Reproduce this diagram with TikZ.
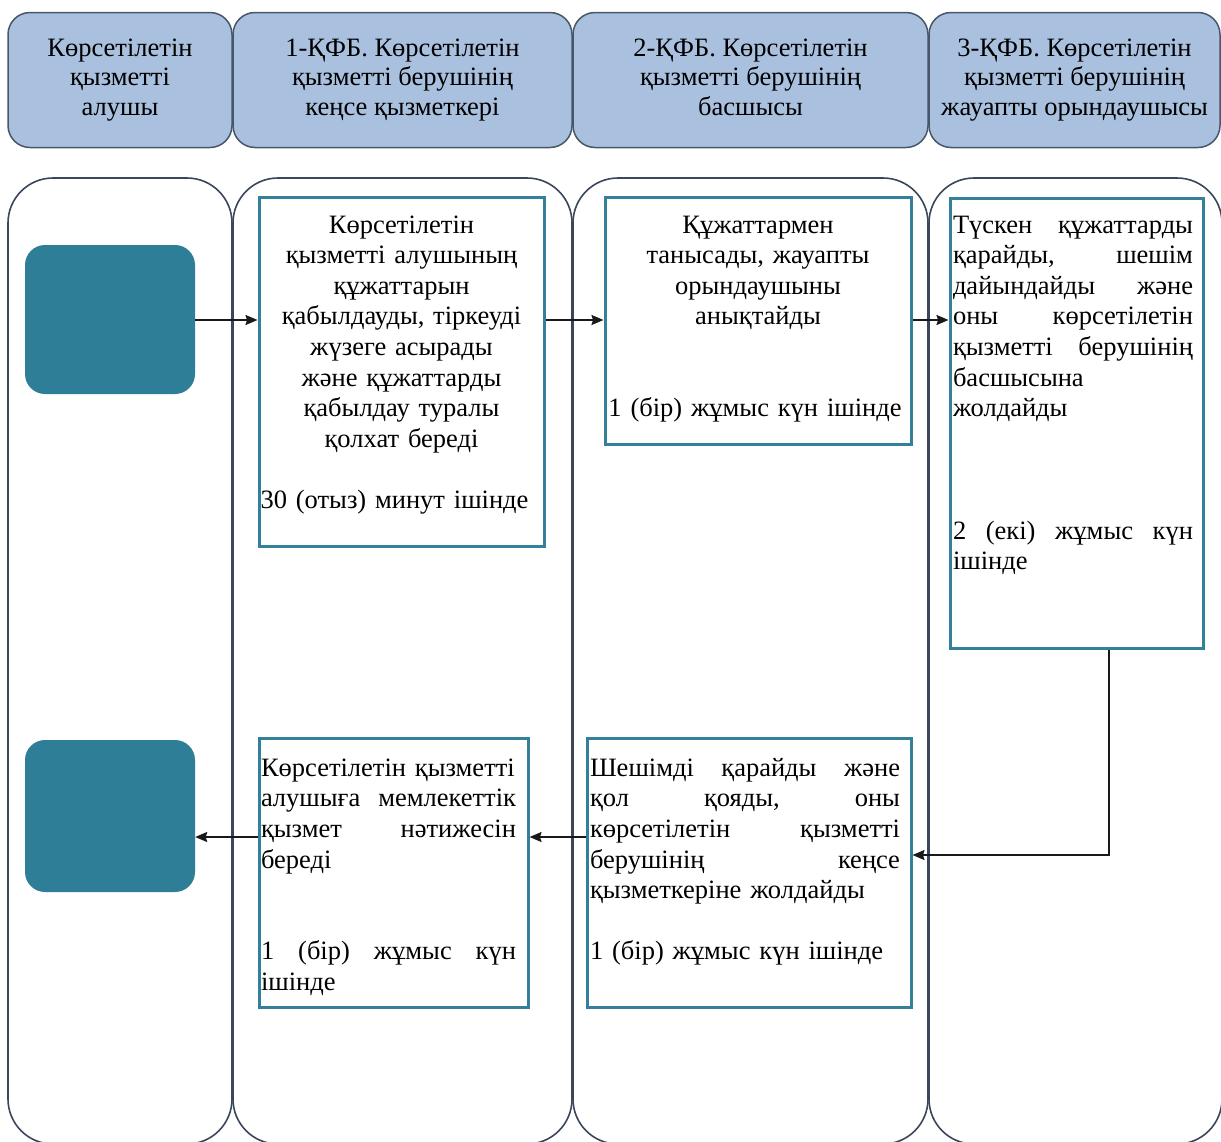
\documentclass[tikz,border=0pt]{standalone}
\usepackage{fontspec}
\setmainfont{Liberation Serif}
\usetikzlibrary{arrows.meta}
\definecolor{hdrfill}{RGB}{169,192,222}
\definecolor{hdrline}{RGB}{72,86,106}
\definecolor{laneline}{RGB}{58,70,90}
\definecolor{tealc}{RGB}{46,126,152}
\definecolor{boxline}{RGB}{52,128,154}
\definecolor{arrowc}{RGB}{25,25,25}
\newcommand{\jl}[2]{\leavevmode\hbox to #1{#2}}
\begin{document}
\begin{tikzpicture}[x=1pt,y=-1pt,
  hdr/.style={draw=hdrline, fill=hdrfill, line width=1.5pt, rounded corners=22pt,
    minimum height=135pt, align=center, inner sep=0, font=\fontsize{26.5}{29.5}\selectfont},
  lane/.style={draw=laneline, line width=1.6pt, rounded corners=45pt, minimum height=966pt, inner sep=0},
  term/.style={fill=tealc, rounded corners=20pt, minimum width=170pt, inner sep=0},
  proc/.style={draw=boxline, line width=3pt, inner sep=0},
  txt/.style={inner sep=0, anchor=north, font=\fontsize{26.5}{30.6}\selectfont},
  flow/.style={draw=arrowc, line width=1.7pt, -{Stealth[length=12pt,width=10pt,inset=1.5pt]}}]
\useasboundingbox (0,0) rectangle (1221,1141);
% lanes
\node[lane, minimum width=224pt] (L1) at (120,661) {};
\node[lane, minimum width=339pt] (L2) at (402.5,661) {};
\node[lane, minimum width=355pt] (L3) at (750.5,661) {};
\node[lane, minimum width=293pt] (L4) at (1075.5,661) {};
% headers
\node[hdr, minimum width=224pt] (H1) at (120,80) {\strut Көрсетілетін\\қызметті\\алушы\strut};
\node[hdr, minimum width=339pt] (H2) at (402.5,80) {\strut 1-ҚФБ. Көрсетілетін\\қызметті берушінің\\кеңсе қызметкері\strut};
\node[hdr, minimum width=355pt] (H3) at (750.5,80) {\strut 2-ҚФБ. Көрсетілетін\\қызметті берушінің\\басшысы\strut};
\node[hdr, minimum width=291pt] (H4) at (1074.5,80) {\strut 3-ҚФБ. Көрсетілетін\\қызметті берушінің\\жауапты орындаушысы\strut};
% terminals
\node[term, minimum height=149pt] (T1) at (110,319.5) {};
\node[term, minimum height=152pt] (T2) at (110,816) {};
% process boxes
\node[proc, minimum width=285pt, minimum height=349pt] (A) at (401.5,372) {};
\node[proc, minimum width=306pt, minimum height=247pt] (B) at (758,321) {};
\node[proc, minimum width=253pt, minimum height=450pt] (C) at (1076.5,423) {};
\node[proc, minimum width=269pt, minimum height=269pt] (D) at (393.5,872.5) {};
\node[proc, minimum width=324pt, minimum height=269pt] (E) at (749,872.5) {};
% texts
\node[txt, text width=279pt, align=center] (tA) at (401.5,211.5) {\strut Көрсетілетін\\қызметті алушының\\құжаттарын\\қабылдауды, тіркеуді\\жүзеге асырады\\және құжаттарды\\қабылдау туралы\\қолхат береді\\[30.6pt]\hspace*{-14pt}30 (отыз) минут ішінде};
\node[txt, text width=300pt, align=center] (tB) at (758,211.5) {\strut Құжаттармен\\танысады, жауапты\\орындаушыны\\анықтайды\\[61.2pt]\hspace*{-6pt}1 (бір) жұмыс күн ішінде};
\node[txt, text width=240pt, align=left] (tC) at (1073,211.5) {\strut\jl{240pt}{Түскен\hfill құжаттарды}\\\jl{240pt}{қарайды,\hfill шешім}\\\jl{240pt}{дайындайды\hfill және}\\\jl{240pt}{оны\hfill көрсетілетін}\\\jl{240pt}{қызметті\hfill берушінің}\\басшысына\\жолдайды\\[91.8pt]\jl{240pt}{2\hfill (екі)\hfill жұмыс\hfill күн}\\ішінде};
\node[txt, text width=255pt, align=left] (tD) at (388.5,754.6) {\strut\jl{255pt}{Көрсетілетін қызметті}\\\jl{255pt}{алушыға\hfill мемлекеттік}\\\jl{255pt}{қызмет\hfill нәтижесін}\\береді\\[61.2pt]\jl{255pt}{1\hfill (бір)\hfill жұмыс\hfill күн}\\ішінде};
\node[txt, text width=310pt, align=left] (tE) at (745,754.6) {\strut\jl{310pt}{Шешімді\hfill қарайды\hfill және}\\\jl{310pt}{қол\hfill қояды,\hfill оны}\\\jl{310pt}{көрсетілетін\hfill қызметті}\\\jl{310pt}{берушінің\hfill кеңсе}\\қызметкеріне жолдайды\\[30.6pt]1 (бір) жұмыс күн ішінде};
% connector coordinates
\coordinate (yt) at (0,320);
\coordinate (yb) at (0,837);
\coordinate (cx) at (1109,855);
% connectors
\draw[flow] (T1.east |- yt) -- (A.west |- yt);
\draw[flow] (A.east |- yt) -- (B.west |- yt);
\draw[flow] (B.east |- yt) -- (C.west |- yt);
\draw[flow] (C.south -| cx) -- (cx) -- (E.east |- cx);
\draw[flow] (E.west |- yb) -- (D.east |- yb);
\draw[flow] (D.west |- yb) -- (T2.east |- yb);
\end{tikzpicture}
\end{document}
